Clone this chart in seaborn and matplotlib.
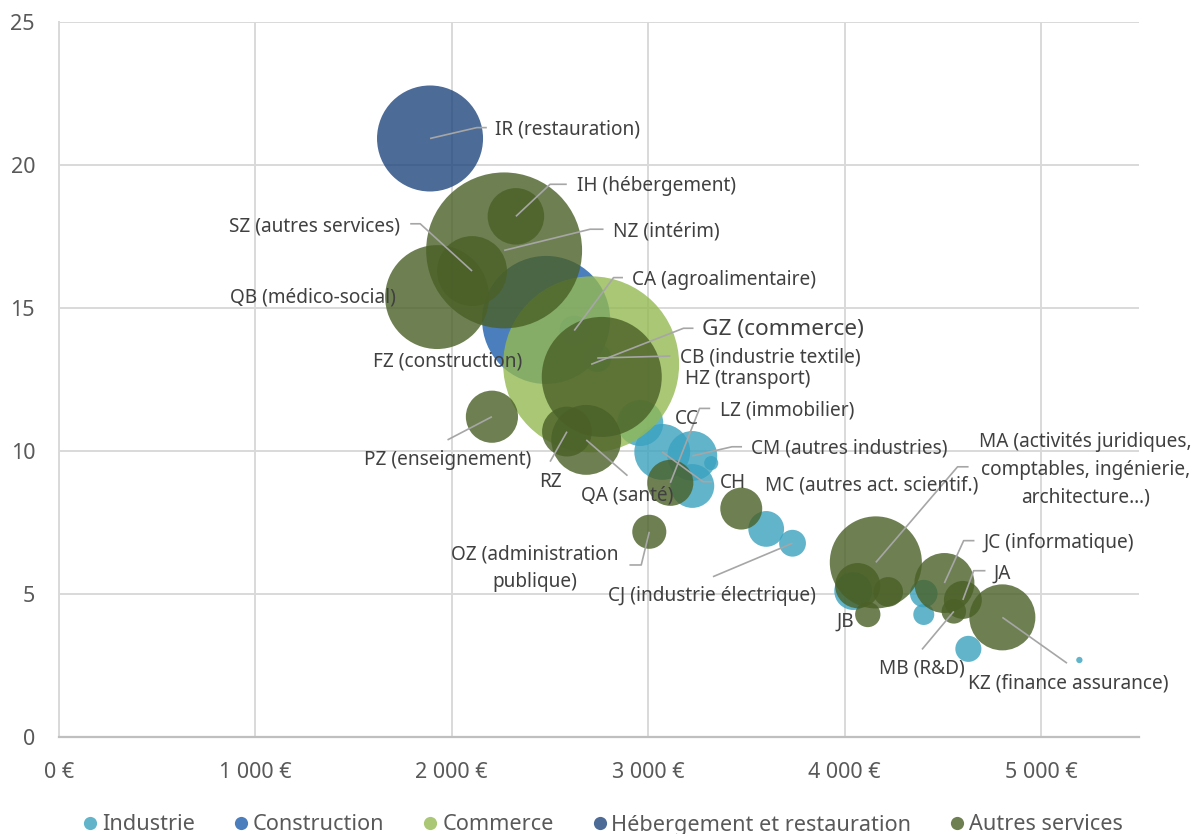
import matplotlib
matplotlib.use("Agg")
import matplotlib.pyplot as plt
import seaborn as sns
import pandas as pd
from matplotlib.lines import Line2D
from matplotlib.ticker import FuncFormatter

# ---------------- data ----------------
groupes = ["Industrie", "Construction", "Commerce",
           "Hébergement et restauration", "Autres services"]

codes = ["CA", "CB", "CC", "CH", "CM", "C_a", "C_b", "C_c", "CJ", "C_d",
         "C_e", "C_f", "C_g", "C_h",
         "FZ",
         "GZ",
         "IR",
         "NZ", "QB", "SZ", "IH", "HZ", "PZ", "RZ", "QA", "LZ", "OZ", "MC",
         "MA", "M_a", "M_b", "JB", "JC", "JA", "MB", "KZ"]
groupe = (["Industrie"] * 14 + ["Construction"] + ["Commerce"]
          + ["Hébergement et restauration"] + ["Autres services"] * 19)
salaire = [2624, 2741, 2960, 3072, 3225, 3225, 3321, 3601, 3735, 4044,
           4403, 4403, 4630, 5195,
           2481,
           2710,
           1890,
           2267, 1926, 2104, 2327, 2764, 2205, 2587, 2685, 3113, 3006, 3474,
           4159, 4067, 4222, 4118, 4508, 4602, 4556, 4803]
taux = [14.21, 13.25, 10.98, 9.97, 9.83, 8.78, 9.58, 7.28, 6.78, 5.11,
        5.02, 4.29, 3.09, 2.70,
        14.58,
        13.03,
        20.92,
        17.01, 15.38, 16.29, 18.20, 12.59, 11.20, 10.68, 10.39, 8.89, 7.18, 7.99,
        6.11, 5.30, 5.08, 4.29, 5.39, 4.80, 4.40, 4.19]
poids = [22, 20, 53, 78, 62, 48, 5, 32, 18, 36,
         19, 11, 17, 1,
         410,
         774,
         281,
         608, 270, 122, 80, 360, 68, 62, 122, 53, 29, 44,
         212, 51, 22, 16, 90, 36, 15, 109]

couleurs = ["#3BA2BF", "#1D5EAC", "#94B952", "#1F467D", "#4A6027"]

x_ticks = [0, 1000, 2000, 3000, 4000, 5000]
y_ticks = [0, 5, 10, 15, 20, 25]

# labels: code -> (text, text position, alignment, font size, leader elbows)
F = 13.7
etiquettes = [
    ("IR", "IR (restauration)", (2221, 21.25), "left", F, [(2128, 21.30), (2179, 21.30)]),
    ("IH", "IH (hébergement)", (2638, 19.27), "left", F, [(2501, 19.32), (2586, 19.32)]),
    ("NZ", "NZ (intérim)", (2821, 17.67), "left", F, [(2705, 17.75), (2773, 17.75)]),
    ("SZ", "SZ (autres services)", (1737, 17.83), "right", F, [(1840, 17.94), (1789, 17.94)]),
    ("QB", "QB (médico-social)", (1718, 15.35), "right", F, []),
    ("FZ", "FZ (construction)", (1982, 13.12), "center", F, []),
    ("CA", "CA (agroalimentaire)", (2917, 15.97), "left", F, [(2824, 16.06), (2872, 16.06)]),
    ("GZ", "GZ (commerce)", (3274, 14.23), "left", 16.3, [(3180, 14.29), (3231, 14.29)]),
    ("CB", "CB (industrie textile)", (3163, 13.28), "left", F, [(3113, 13.32)]),
    ("HZ", "HZ (transport)", (3189, 12.52), "left", F, []),
    ("LZ", "LZ (immobilier)", (3367, 11.41), "left", F, [(3262, 11.49), (3316, 11.49)]),
    ("CC", "CC", (3195, 11.11), "center", F, []),
    ("CM", "CM (autres industries)", (3523, 10.10), "left", F, [(3427, 10.15), (3478, 10.15)]),
    ("CH", "CH", (3367, 8.87), "left", F, [(3279, 8.93), (3325, 8.93)]),
    ("MC", "MC (autres act. scientif.)", (3597, 8.81), "left", F, []),
    ("RZ", "RZ", (2501, 8.93), "center", F, [(2501, 9.63)]),
    ("QA", "QA (santé)", (2895, 8.46), "center", F, [(2895, 9.14)]),
    ("PZ", "PZ (enseignement)", (1980, 9.69), "center", F, [(1979, 10.39)]),
    ("OZ", "OZ (administration\npublique)", (2424, 5.92), "center", F, [(2965, 6.02), (2905, 6.02)]),
    ("CJ", "CJ (industrie électrique)", (3327, 4.93), "center", F, [(3330, 5.61)]),
    ("MA", "MA (activités juridiques,\ncomptables, ingénierie,\narchitecture…)", (5225, 9.34), "center", F, [(4575, 9.45), (4631, 9.45)]),
    ("JC", "JC (informatique)", (4708, 6.78), "left", F, [(4606, 6.87), (4661, 6.87)]),
    ("JA", "JA", (4759, 5.71), "left", F, [(4657, 5.82), (4717, 5.82)]),
    ("JB", "JB", (4004, 4.04), "center", F, []),
    ("MB", "MB (R&D)", (4394, 2.41), "center", F, [(4394, 3.07)]),
    ("KZ", "KZ (finance assurance)", (5136, 1.89), "center", F, [(5132, 2.59)]),
]

df = pd.DataFrame({"code": codes, "groupe": groupe, "salaire": salaire,
                   "taux": taux, "poids": poids})

# ---------------- style ----------------
sns.set_theme(style="white")
plt.rcParams["font.family"] = ["Noto Sans", "DejaVu Sans"]
TXT = "#404040"
GRID = "#d9d9d9"
LEADER = "#a6a6a6"
ALPHA = 0.8

W, H, DPI = 1193, 834, 100
fig = plt.figure(figsize=(W / DPI, H / DPI), dpi=DPI)
ax = fig.add_axes([58.7 / W, 1 - 737.3 / H, (1139.3 - 58.7) / W, (737.3 - 21.7) / H])

# bubble area proportional to weight
k = (2 * 0.72) ** 2 * 10  # points^2 per unit of weight
vmax = max(poids)
sns.scatterplot(data=df, x="salaire", y="taux", hue="groupe", hue_order=groupes,
                palette=couleurs, size="poids", sizes=(0, k * vmax),
                size_norm=(0, vmax), alpha=ALPHA, linewidth=0, legend=False,
                ax=ax, zorder=3)

ax.set_xlim(0, 5500)
ax.set_ylim(0, 25)
ax.set_xticks(x_ticks)
ax.set_yticks(y_ticks)
ax.xaxis.set_major_formatter(FuncFormatter(
    lambda v, p: f"{int(v):,}".replace(",", "\u00a0") + "\u00a0€"))
ax.yaxis.set_major_formatter(FuncFormatter(lambda v, p: f"{int(v)}"))
ax.grid(True, color=GRID, linewidth=1.4, zorder=0)
ax.set_axisbelow(True)
for s in ["top", "right"]:
    ax.spines[s].set_visible(False)
ax.spines["left"].set_color(GRID)
ax.spines["left"].set_linewidth(1.4)
ax.spines["bottom"].set_color("#bfbfbf")
ax.spines["bottom"].set_linewidth(1.6)
ax.tick_params(axis="both", length=0, labelsize=15.5, colors="#595959")
ax.tick_params(axis="x", pad=17.5)
ax.tick_params(axis="y", pad=17)
ax.set_xlabel("")
ax.set_ylabel("")

pos = {c: (x, y) for c, x, y in zip(codes, salaire, taux)}
for code, txt, (tx, ty), ha, fs, elbows in etiquettes:
    if elbows:
        pts = [pos[code]] + elbows
        ax.plot([p[0] for p in pts], [p[1] for p in pts], color=LEADER,
                linewidth=1.2, zorder=5, solid_capstyle="butt", clip_on=False)
    ax.text(tx, ty, txt, ha=ha, va="center", fontsize=fs, color=TXT,
            multialignment="center", linespacing=1.5, zorder=6, clip_on=False)

handles = [Line2D([0], [0], marker="o", linestyle="", markersize=9.5,
                  markerfacecolor=c, markeredgewidth=0, alpha=ALPHA)
           for c in couleurs]
fig.legend(handles, groupes, loc="center", bbox_to_anchor=(0.504, 1 - 825 / H),
           ncol=5, frameon=False, fontsize=15.6, handletextpad=0.05,
           handlelength=1.0, columnspacing=1.62, labelcolor="#595959",
           borderaxespad=0)

fig.savefig("out.png", dpi=DPI)
